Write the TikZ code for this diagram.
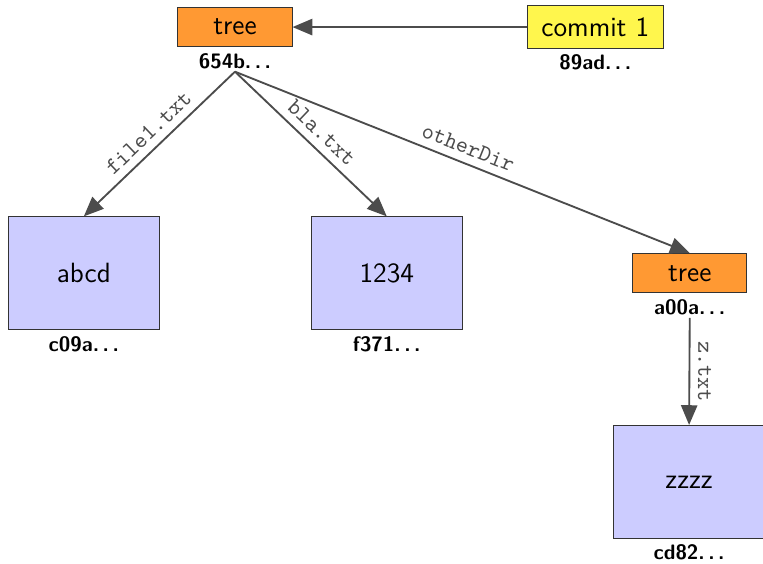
\documentclass[tikz,border=0pt]{standalone}
\usepackage{tikz}
\usetikzlibrary{positioning,arrows.meta}
\renewcommand{\familydefault}{\sfdefault}
\newcommand{\dts}{.\,.\,.}

\begin{document}
\begin{tikzpicture}[
  obj/.style = {draw = black!80, font = \large, inner sep = 5pt},
  treebox/.style = {obj, fill = orange!80, minimum width = 1.73cm},
  commitbox/.style = {obj, fill = yellow!70, minimum width = 2.06cm},
  blobbox/.style = {obj, fill = blue!20, minimum width = 2.29cm, minimum height = 1.71cm},
  hash/.style = {font = \small\bfseries, inner sep = 1pt, below = 1.5pt of #1},
  ref/.style = {black!70, thick, -{Triangle[length = 8.5pt, width = 7pt]}},
  fname/.style = {font = \ttfamily, text = black!70, midway, sloped, above}
]
\useasboundingbox (0, 0) rectangle (11.56, -8.53);
% objects
\node[treebox] (tree) at (3.56, -0.41) {tree};
\node[commitbox] (commit) at (9.02, -0.41) {commit 1};
\node[blobbox] (abcd) at (1.27, -4.14) {abcd};
\node[blobbox] (num) at (5.86, -4.14) {1234};
\node[treebox] (subtree) at (10.45, -4.14) {tree};
\node[blobbox] (zzzz) at (10.44, -7.30) {zzzz};
% hashes
\node[hash = tree] (treeid) {654b\dts};
\node[hash = commit] (commitid) {89ad\dts};
\node[hash = abcd] (abcdid) {c09a\dts};
\node[hash = num] (numid) {f371\dts};
\node[hash = subtree] (subtreeid) {a00a\dts};
\node[hash = zzzz] (zzzzid) {cd82\dts};
% references
\draw[ref] (commit) -- (tree);
\draw[ref] (treeid.south) -- (abcd.north) node[fname] {file1.txt};
\draw[ref] (treeid.south) -- (num.north) node[fname] {bla.txt};
\draw[ref] (treeid.south) -- (subtree.north) node[fname] {otherDir};
\draw[ref] (subtreeid.south) -- (zzzz.north) node[fname, allow upside down] {z.txt};
\end{tikzpicture}
\end{document}
